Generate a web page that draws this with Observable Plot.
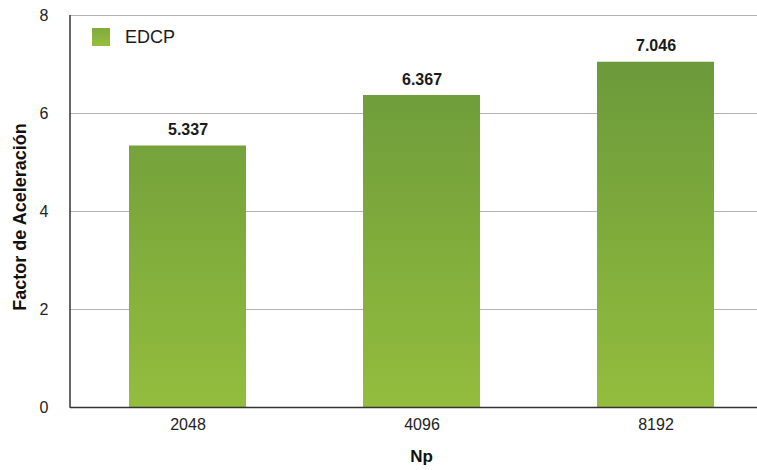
<!DOCTYPE html>
<html>
<head>
<meta charset="utf-8">
<script src="https://cdn.jsdelivr.net/npm/d3@7"></script>
<script src="https://cdn.jsdelivr.net/npm/@observablehq/plot@0.6"></script>
<style>
  html, body { margin: 0; padding: 0; background: #fff; }
  svg { font-family: "Liberation Sans", Arial, Helvetica, sans-serif; }
</style>
</head>
<body>
<div id="chart"></div>
<script>
const categories = ["2048", "4096", "8192"];
const values = [5.337, 6.367, 7.046];
const valueLabels = ["5.337", "6.367", "7.046"];
const yTicks = [0, 2, 4, 6, 8];
const seriesName = "EDCP";
const xTitle = "Np";
const yTitle = "Factor de Aceleración";

const data = categories.map((c, i) => ({np: c, v: values[i], label: valueLabels[i]}));

const W = 757, H = 470;
const mL = 70, mR = 0, mT = 15, mB = 63;

const plot = Plot.plot({
  width: W,
  height: H,
  marginLeft: mL,
  marginRight: mR,
  marginTop: mT,
  marginBottom: mB,
  style: {fontFamily: '"Liberation Sans", Arial, sans-serif', background: "#fff"},
  x: {domain: categories, range: [70, 772], paddingInner: 0.5, paddingOuter: 0.25, label: null},
  y: {domain: [0, 8], ticks: yTicks, label: null},
  marks: [
    Plot.ruleY(yTicks.filter(d => d > 0), {stroke: "#b4b4b4", strokeWidth: 1}),
    Plot.barY(data, {x: "np", y: "v", fill: "url(#barGrad)"}),
    Plot.text(data, {x: "np", y: "v", text: "label", dy: -16, fontSize: 16, fontWeight: "bold", fill: "#1a1a1a",
      stroke: "#ffffff", strokeWidth: 2, paintOrder: "stroke"}),
    Plot.axisY({ticks: yTicks, tickSize: 0, tickPadding: 22, fontSize: 16, label: null, color: "#222"}),
    Plot.axisX({tickSize: 0, tickPadding: 11, fontSize: 16, label: null, color: "#222"}),
    Plot.ruleY([0], {stroke: "#333", strokeWidth: 1.5})
  ]
});

document.getElementById("chart").appendChild(plot);

const svg = d3.select(plot);
const ys = plot.scale("y");
const xs = plot.scale("x");
const y0 = ys.apply(0), y8 = ys.apply(8);

const defs = svg.insert("defs", ":first-child");
const g = defs.append("linearGradient").attr("id", "barGrad")
  .attr("gradientUnits", "userSpaceOnUse")
  .attr("x1", 0).attr("x2", 0).attr("y1", y8).attr("y2", y0);
g.append("stop").attr("offset", "0%").attr("stop-color", "#66953a");
g.append("stop").attr("offset", "100%").attr("stop-color", "#93bd3d");

const lg = defs.append("linearGradient").attr("id", "legGrad")
  .attr("x1", 0).attr("x2", 0).attr("y1", 0).attr("y2", 1);
lg.append("stop").attr("offset", "0%").attr("stop-color", "#82aa3c");
lg.append("stop").attr("offset", "100%").attr("stop-color", "#97bf3d");

// left axis line
svg.append("line")
  .attr("x1", mL).attr("x2", mL).attr("y1", y8).attr("y2", y0 + 0.75)
  .attr("stroke", "#333").attr("stroke-width", 1.5);

// legend
svg.append("rect").attr("x", mL + 22).attr("y", y8 + 13).attr("width", 18).attr("height", 18)
  .attr("fill", "url(#legGrad)");
svg.append("text").attr("x", mL + 55).attr("y", y8 + 28)
  .attr("text-anchor", "start")
  .attr("font-size", 18).attr("fill", "#1a1a1a").text(seriesName);

// axis titles
const xMid = (xs.apply(categories[0]) + xs.apply(categories[categories.length - 1]) + xs.bandwidth) / 2;
svg.append("text").attr("x", xMid).attr("y", 462)
  .attr("text-anchor", "middle").attr("font-size", 17).attr("font-weight", "bold").attr("fill", "#111")
  .text(xTitle);
svg.append("text")
  .attr("transform", `translate(26, ${(y0 + y8) / 2 + 6}) rotate(-90)`)
  .attr("text-anchor", "middle").attr("font-size", 18).attr("font-weight", "bold").attr("fill", "#111")
  .text(yTitle);
</script>
</body>
</html>
